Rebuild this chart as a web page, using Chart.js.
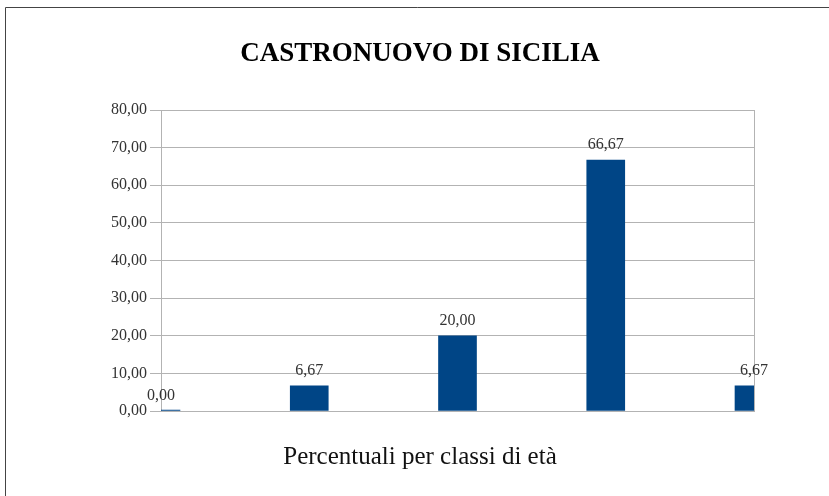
<!DOCTYPE html>
<html>
<head>
<meta charset="utf-8">
<script src="https://cdn.jsdelivr.net/npm/chart.js@4"></script>
<style>
  body { margin: 0; background: #fff; overflow: hidden; }
  canvas { display: block; }
</style>
</head>
<body>
<canvas id="myChart" width="829" height="496"></canvas>
<script>
// dati
var classi = ['0-14', '15-29', '30-44', '45-64', '65+'];
var percentuali = [0.00, 6.67, 20.00, 66.67, 6.67];
var tick_min = 0;
var tick_max = 80;
var tick_step = 10;

function virgola(v) {
  return Number(v).toFixed(2).replace('.', ',');
}

// cornice in alto e a sinistra
var cornice = {
  id: 'cornice',
  beforeDraw: function (chart) {
    var ctx = chart.ctx;
    ctx.save();
    ctx.strokeStyle = '#444';
    ctx.lineWidth = 1;
    ctx.beginPath();
    ctx.moveTo(5.5, chart.height);
    ctx.lineTo(5.5, 7.5);
    ctx.lineTo(chart.width, 7.5);
    ctx.stroke();
    ctx.restore();
  }
};

// etichette sopra le barre
var etichette = {
  id: 'etichette',
  afterDatasetsDraw: function (chart) {
    var ctx = chart.ctx;
    var meta = chart.getDatasetMeta(0);
    ctx.save();
    ctx.font = '16px "Liberation Serif"';
    ctx.fillStyle = '#333';
    ctx.textAlign = 'center';
    ctx.textBaseline = 'alphabetic';
    meta.data.forEach(function (bar, i) {
      var y = chart.scales.y.getPixelForValue(percentuali[i]);
      ctx.fillText(virgola(percentuali[i]), bar.x, y - 11);
    });
    ctx.restore();
  }
};

var ctx = document.getElementById('myChart').getContext('2d');
var myChart = new Chart(ctx, {
  type: 'bar',
  data: {
    labels: classi,
    datasets: [{
      data: percentuali,
      backgroundColor: '#004586',
      borderWidth: 0,
      barThickness: 38,
      minBarLength: 1
    }]
  },
  options: {
    responsive: false,
    animation: false,
    layout: {
      padding: { left: 86, right: 75, top: 0, bottom: 0 }
    },
    plugins: {
      legend: { display: false },
      tooltip: { enabled: false },
      title: {
        display: true,
        text: 'CASTRONUOVO DI SICILIA',
        color: '#000',
        font: { family: '"Liberation Serif"', size: 27, weight: 'bold', lineHeight: 1.2 },
        padding: { top: 38, bottom: 39.6 }
      },
      subtitle: {
        display: true,
        position: 'bottom',
        text: 'Percentuali per classi di età',
        color: '#111',
        font: { family: '"Liberation Serif"', size: 25, weight: 'normal', lineHeight: 1.2 },
        padding: { top: 31, bottom: 24 }
      }
    },
    scales: {
      x: {
        offset: false,
        grid: {
          offset: false,
          drawTicks: false,
          color: function (c) { return c.index === classi.length - 1 ? '#b3b3b3' : 'rgba(0,0,0,0)'; }
        },
        border: { display: true, color: '#b3b3b3' },
        ticks: { display: false },
        afterFit: function (scale) { scale.height = 0; }
      },
      y: {
        min: tick_min,
        max: tick_max,
        ticks: {
          stepSize: tick_step,
          padding: 3,
          color: '#333',
          font: { family: '"Liberation Serif"', size: 16 },
          callback: function (v) { return virgola(v); }
        },
        grid: { color: '#b3b3b3', tickLength: 11 },
        border: { color: '#b3b3b3' },
        afterFit: function (scale) { scale.width = 75; }
      }
    }
  },
  plugins: [cornice, etichette]
});
</script>
</body>
</html>
